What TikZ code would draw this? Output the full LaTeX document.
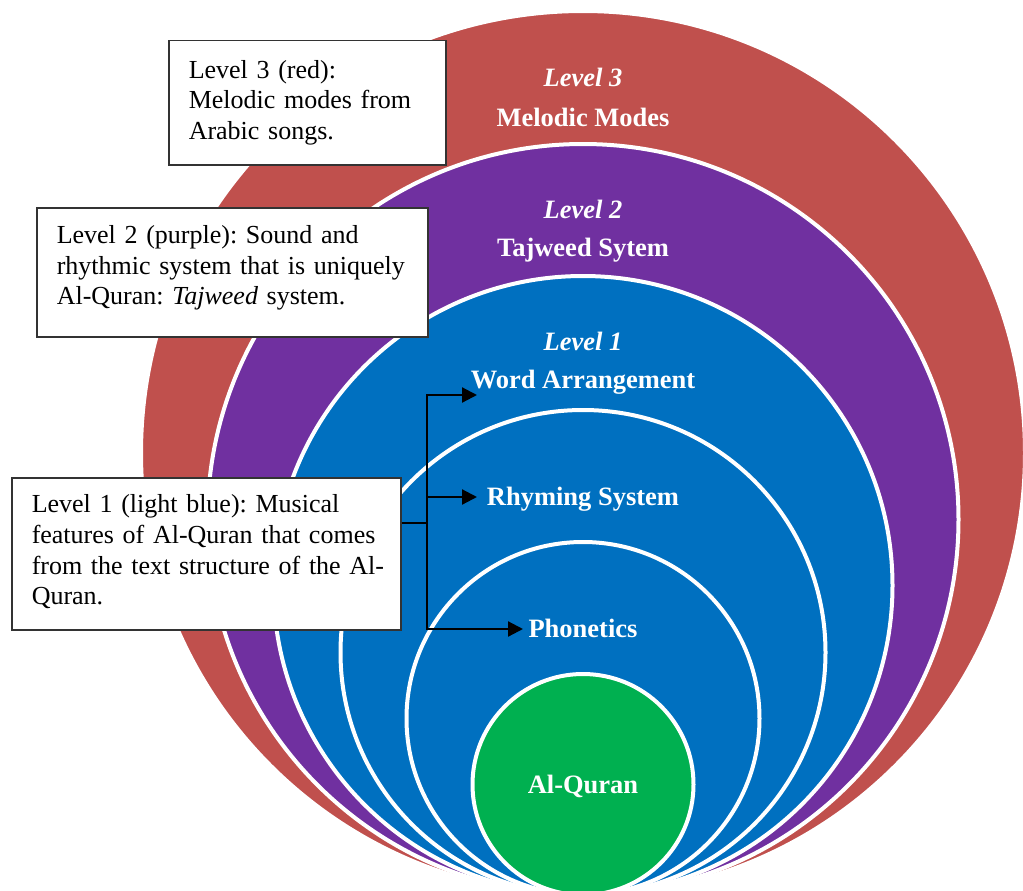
\documentclass[tikz,border=0pt]{standalone}
\usepackage{fontspec}
\setmainfont{Liberation Serif}
\usetikzlibrary{arrows.meta}
\definecolor{lvred}{HTML}{C0504D}
\definecolor{lvpurple}{HTML}{7030A0}
\definecolor{lvblue}{HTML}{0070C0}
\definecolor{lvgreen}{HTML}{00B050}
\definecolor{boxline}{HTML}{333333}
\frenchspacing
\hfuzz=100pt
\newcommand{\lift}[1]{\rule[-#1]{0pt}{#1}}
\begin{document}
\begin{tikzpicture}[x=1pt,y=-1pt,
  ring/.style={draw=white, line width=4pt},
  title/.style={text=white, font=\fontsize{26.5}{30.5}\selectfont\bfseries, anchor=base, inner sep=0pt},
  titleit/.style={text=white, font=\fontsize{26.5}{30.5}\selectfont\bfseries\itshape, anchor=base, inner sep=0pt},
  note/.style={draw=boxline, line width=1.5pt, fill=white, anchor=north west, align=left,
    font=\fontsize{26}{30.7}\selectfont, inner xsep=20pt, inner ysep=4pt},
  link/.style={line width=2.2pt},
  conn/.style={line width=2.2pt, -{Triangle[length=15pt,width=15pt]}}
]
\useasboundingbox (0,0) rectangle (1023,891);
\clip (0,0) rectangle (1023,891);
% nested circles, all touching at the bottom
\path[ring, fill=lvred] (583,453) circle (442pt);
\path[ring, fill=lvpurple] (583,519.5) circle (375.5pt);
\path[ring, fill=lvblue] (583,585.5) circle (309.5pt);
\path[ring, fill=lvblue] (583,652.5) circle (242.5pt);
\path[ring, fill=lvblue] (583,718.5) circle (176.5pt);
\path[ring, fill=lvgreen] (583,784.5) circle (110.5pt);
% titles
\node[titleit] (t3a) at (583,87) {Level 3};
\node[title] (t3b) at (583,126) {Melodic Modes};
\node[titleit] (t2a) at (583,218) {Level 2};
\node[title] (t2b) at (583,256) {Tajweed Sytem};
\node[titleit] (t1a) at (583,350) {Level 1};
\node[title] (t1b) at (583,388) {Word Arrangement};
\node[title] (rh) at (583,505) {Rhyming System};
\node[title] (ph) at (583,637) {Phonetics};
\node[title] (aq) at (583,793) {Al-Quran};
% note boxes
\node[note, minimum width=277pt, minimum height=124pt, text width=237pt] (b3) at (168,40)
  {\mbox{Level 3 (red):}\\\mbox{Melodic modes from}\\\mbox{Arabic songs.\lift{6pt}}};
\node[note, minimum width=391pt, minimum height=129pt, text width=351pt] (b2) at (36,207)
  {\mbox{Level 2 (purple): Sound and}\\\mbox{rhythmic system that is uniquely}\\\mbox{Al-Quran: \textit{Tajweed} system.\lift{14pt}}};
\node[note, minimum width=389pt, minimum height=152pt, text width=349pt] (b1) at (11,477)
  {\mbox{Level 1 (light blue): Musical}\\\mbox{features of Al-Quran that comes}\\\mbox{from the text structure of the Al-}\\\mbox{Quran.\lift{8pt}}};
% connectors
\coordinate (j) at (427,523);
\coordinate (aw) at (477,395);
\coordinate (ar) at (477,497);
\coordinate (ap) at (523,629);
\draw[link] (b1.east |- j) -- (j);
\draw[conn] (j) |- (aw);
\draw[conn] (j) |- (ar);
\draw[conn] (j) |- (ap);
\end{tikzpicture}
\end{document}
